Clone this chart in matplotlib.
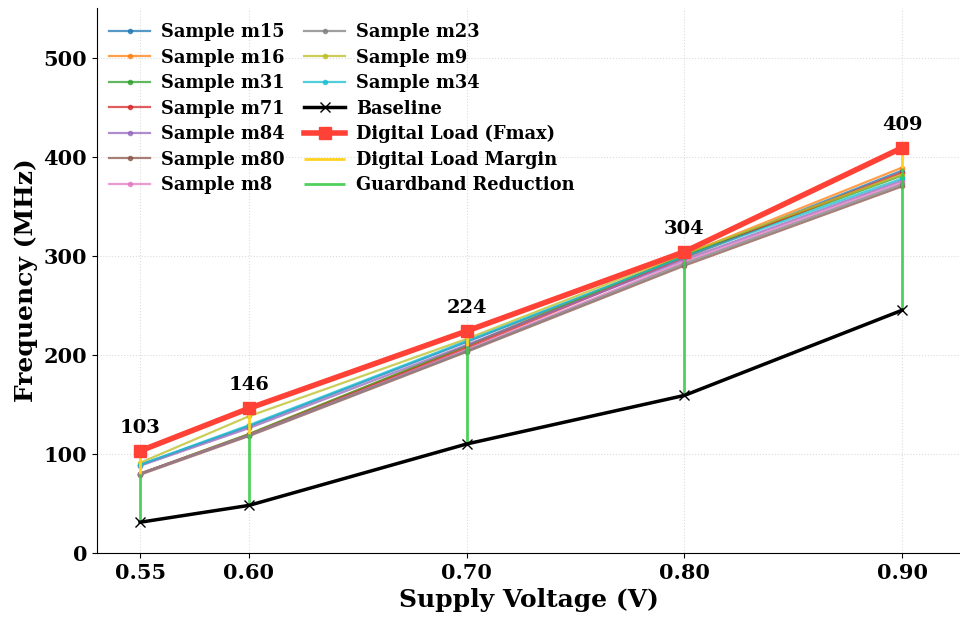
import matplotlib
matplotlib.use("Agg")
import matplotlib.pyplot as plt
import numpy as np

voltages = [0.55, 0.60, 0.70, 0.80, 0.90]
xtick_labels = ["0.55", "0.60", "0.70", "0.80", "0.90"]

sample_names = ["Sample m15", "Sample m16", "Sample m31", "Sample m71", "Sample m84",
                "Sample m80", "Sample m8", "Sample m23", "Sample m9", "Sample m34"]
m15 = [89, 128, 213, 299, 386]
m16 = [80, 120, 209, 301, 389]
m31 = [80, 120, 209, 300, 381]
m71 = [80, 119, 207, 298, 384]
m84 = [88, 126, 210, 296, 376]
m80 = [79, 118, 203, 290, 370]
m8 = [80, 119, 205, 294, 374]
m23 = [80, 119, 204, 292, 372]
m9 = [91, 138, 216, 302, 382]
m34 = [89, 129, 214, 299, 378]
samples = [m15, m16, m31, m71, m84, m80, m8, m23, m9, m34]

baseline = [31, 48, 110, 159, 245]
fmax = [103, 146, 224, 304, 409]
margin_low = [80, 120, 209, 301, 389]

colors = ["#1f77b4", "#ff7f0e", "#2ca02c", "#d62728", "#9467bd",
          "#8c564b", "#e377c2", "#7f7f7f", "#bcbd22", "#17becf"]

plt.rcParams['font.family'] = ['DejaVu Serif']
plt.rcParams['font.weight'] = 'bold'

fig = plt.figure(figsize=(9.6, 6.22), dpi=100)
ax = fig.add_axes([0.101, 0.111, 0.899, 0.876])

for name, vals, c in zip(sample_names, samples, colors):
    ax.plot(voltages, vals, marker='o', markersize=3, lw=1.6, color=c, alpha=0.75, label=name)

ax.plot(voltages, baseline, color='black', marker='x', markersize=7, lw=2.5, label='Baseline', zorder=4)

ax.vlines(voltages, margin_low, fmax, color='#FFD21F', lw=2, zorder=3, label='Digital Load Margin')
ax.vlines(voltages, baseline, margin_low, color='#3DCC4A', lw=2, alpha=0.9, zorder=3, label='Guardband Reduction')

ax.plot(voltages, fmax, color='#FF4136', marker='s', markersize=8, lw=4, label='Digital Load (Fmax)', zorder=5)

for x, y in zip(voltages, fmax):
    ax.annotate(f"{y}", (x, y), xytext=(0, 10), textcoords='offset points',
                ha='center', va='bottom', fontsize=14, fontweight='bold')

ax.set_xlim(0.5302, 0.9266)
ax.set_ylim(0, 550)
ax.set_xticks(voltages)
ax.set_xticklabels(xtick_labels)
ax.set_yticks([0, 100, 200, 300, 400, 500])
ax.tick_params(axis='both', labelsize=15)
for lab in ax.get_xticklabels() + ax.get_yticklabels():
    lab.set_fontweight('bold')
ax.set_xlabel("Supply Voltage (V)", fontsize=18, fontweight='bold')
ax.set_ylabel("Frequency (MHz)", fontsize=18, fontweight='bold')
ax.grid(True, linestyle=':', color='#cccccc', alpha=0.7)
ax.spines['top'].set_visible(False)
ax.spines['right'].set_visible(False)

handles, labels = ax.get_legend_handles_labels()
order = sample_names + ['Baseline', 'Digital Load (Fmax)', 'Digital Load Margin', 'Guardband Reduction']
hd = dict(zip(labels, handles))
ax.legend([hd[l] for l in order], order, loc='upper left', ncol=2, frameon=False,
          bbox_to_anchor=(0.0, 0.995),
          prop={'size': 12.8, 'weight': 'bold'}, handlelength=2.3, handletextpad=0.6,
          columnspacing=1.1, labelspacing=0.42, borderaxespad=0.3)

fig.savefig("out.png", dpi=100)
